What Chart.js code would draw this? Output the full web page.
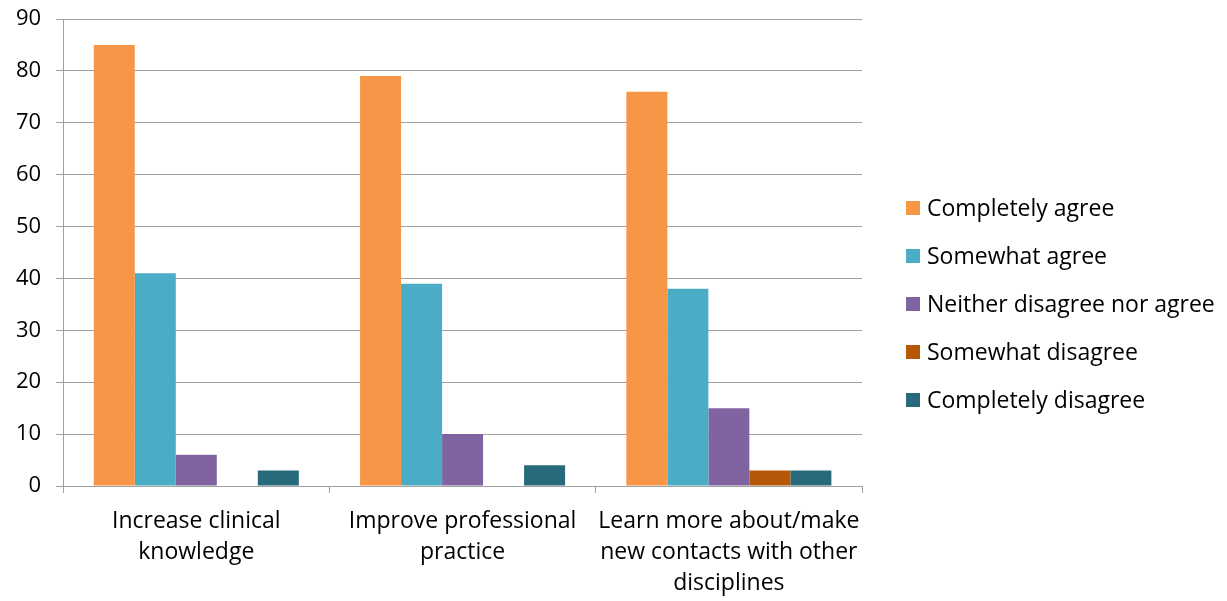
<!DOCTYPE html>
<html>
<head>
<meta charset="utf-8">
<script src="https://cdn.jsdelivr.net/npm/chart.js@4.4.0/dist/chart.umd.min.js"></script>
<style>
  html, body { margin: 0; padding: 0; background: #fff; }
  #wrap { width: 1227px; height: 601px; position: relative; }
</style>
</head>
<body>
<div id="wrap"><canvas id="ChartA"></canvas></div>
<script>
// data
const categories = [
  ['Increase clinical', 'knowledge'],
  ['Improve professional', 'practice'],
  ['Learn more about/make', 'new contacts with other', 'disciplines']
];
const seriesNames = ['Completely agree', 'Somewhat agree', 'Neither disagree nor agree', 'Somewhat disagree', 'Completely disagree'];
const completelyAgree = [85, 79, 76];
const somewhatAgree = [41, 39, 38];
const neither = [6, 10, 15];
const somewhatDisagree = [0, 0, 3];
const completelyDisagree = [3, 4, 3];
const colors = ['#F79646', '#4BACC6', '#8064A2', '#B65708', '#276A7C'];

const fontFamily = '"Open Sans", sans-serif';
const gridColor = '#A0A0A0';

const values = [completelyAgree, somewhatAgree, neither, somewhatDisagree, completelyDisagree];
const datasets = seriesNames.map(function(name, i) {
  return {
    label: name,
    data: values[i],
    backgroundColor: colors[i],
    borderWidth: 0,
    barPercentage: 1,
    categoryPercentage: 0.77
  };
});

// legend drawn at the right, like the original
const sideLegend = {
  id: 'sideLegend',
  afterDraw: function(chart) {
    const ctx = chart.ctx;
    ctx.save();
    ctx.font = '23px ' + fontFamily;
    ctx.textBaseline = 'middle';
    chart.data.datasets.forEach(function(ds, i) {
      const y = 208 + i * 48;
      ctx.fillStyle = ds.backgroundColor;
      ctx.fillRect(906, y - 7, 14, 14);
      ctx.fillStyle = '#000';
      ctx.fillText(ds.label, 927, y + 1);
    });
    ctx.restore();
  }
};

const ctx = document.getElementById('ChartA').getContext('2d');
const myChart = new Chart(ctx, {
  type: 'bar',
  data: { labels: categories, datasets: datasets },
  plugins: [sideLegend],
  options: {
    responsive: true,
    maintainAspectRatio: false,
    animation: false,
    layout: { padding: { left: 1, right: 365, top: 0, bottom: -11 } },
    plugins: {
      legend: { display: false },
      tooltip: { enabled: false }
    },
    scales: {
      x: {
        grid: { display: true, offset: true, drawOnChartArea: false, drawTicks: true, tickLength: 7, color: gridColor },
        border: { color: gridColor },
        ticks: { color: '#000', font: { family: fontFamily, size: 23, lineHeight: '31px' }, maxRotation: 0, autoSkip: false, padding: 13 }
      },
      y: {
        min: 0,
        max: 90,
        grid: { color: gridColor, tickLength: 7 },
        border: { color: gridColor },
        ticks: { stepSize: 10, color: '#000', font: { family: fontFamily, size: 22 }, padding: 15 },
        afterFit: function(scale) { scale.paddingTop = 19; }
      }
    }
  }
});
</script>
</body>
</html>
